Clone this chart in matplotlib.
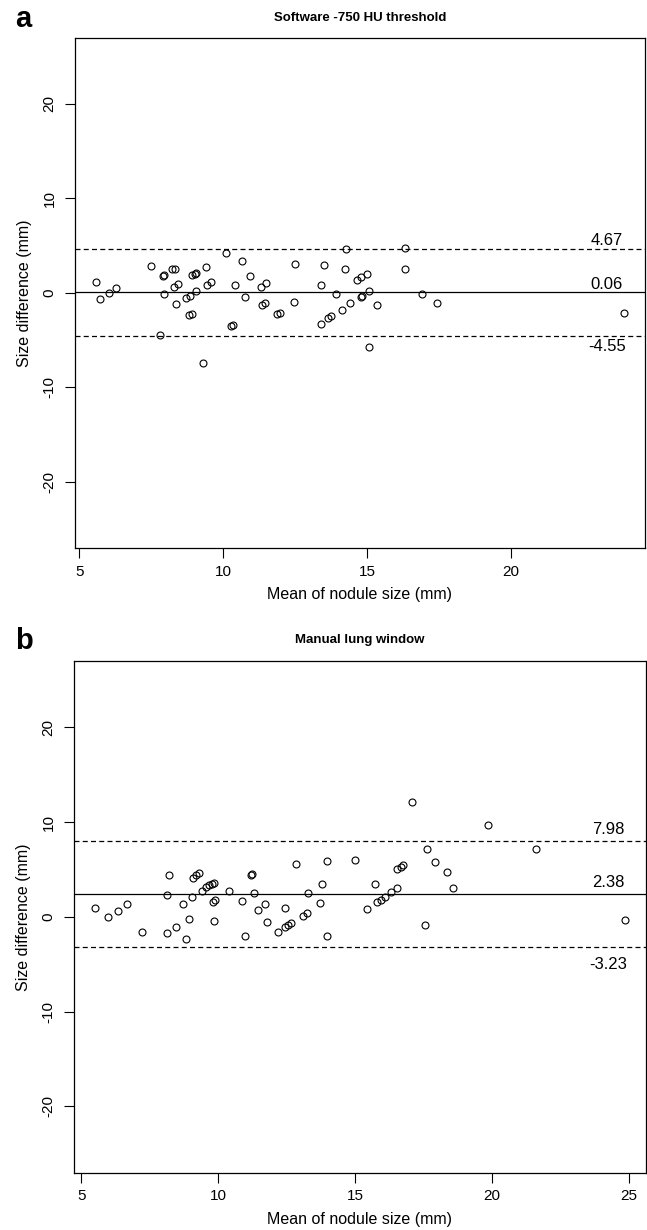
import matplotlib
matplotlib.use("Agg")
import matplotlib.pyplot as plt
import numpy as np

plt.rcParams['font.family'] = ['Liberation Sans', 'DejaVu Sans']

# ---------------- Panel a data ----------------
a_mean = [5.57, 5.72, 6.02, 6.26, 7.48, 7.79, 7.92, 7.95, 7.94, 8.22, 8.31, 8.29, 8.44, 8.37,
          8.69, 8.86, 8.80, 8.91, 8.92, 9.00, 9.05, 9.05, 9.31, 9.41, 9.42, 9.56, 10.09, 10.26,
          10.35, 10.42, 10.66, 10.74, 10.92, 11.31, 11.50, 11.34, 11.46, 11.86, 11.96, 12.49,
          12.47, 13.39, 13.50, 13.39, 13.64, 13.75, 13.93, 14.11, 14.24, 14.27, 14.42, 14.64,
          14.80, 15.00, 14.77, 14.82, 15.08, 15.07, 15.33, 16.30, 16.33, 16.90, 17.43, 23.92]
a_diff = [1.13, -0.60, 0.00, 0.50, 2.87, -4.45, 1.77, 1.88, -0.10, 2.48, 2.55, 0.57, 0.89, -1.23,
          -0.56, -0.32, -2.36, -2.26, 1.88, 2.02, 2.09, 0.18, -7.38, 2.76, 0.78, 1.13, 4.21, -3.46,
          -3.35, 0.78, 3.33, -0.49, 1.80, 0.57, 1.03, -1.27, -1.06, -2.23, -2.15, 3.01,
          -1.02, 0.82, 2.97, -3.25, -2.68, -2.47, -0.07, -1.83, 2.48, 4.63, -1.06, 1.35,
          1.63, 2.02, -0.42, -0.32, 0.15, -5.76, -1.27, 2.55, 4.74, -0.17, -1.06, -2.15]
a_lines = [4.67, 0.06, -4.55]          # upper LoA, bias, lower LoA
a_labels = ["4.67", "0.06", "-4.55"]

# ---------------- Panel b data ----------------
b_mean = [5.50, 5.96, 6.34, 6.68, 7.23, 8.22, 8.14, 8.14, 8.45, 8.71, 8.93, 8.81, 9.06, 9.09,
          9.20, 9.30, 9.40, 9.54, 9.66, 9.76, 9.85, 9.82, 9.87, 9.85, 10.38, 10.87, 10.98, 11.21,
          11.23, 11.31, 11.44, 11.70, 11.77, 12.18, 12.45, 12.43, 12.54, 12.67, 12.83, 13.09,
          13.24, 13.28, 13.78, 13.73, 13.96, 13.96,
          15.01, 15.74, 15.44, 15.78, 15.95, 16.07, 16.30, 16.53, 16.53, 16.69, 16.75, 17.06,
          17.63, 17.54, 17.93, 18.35, 18.58, 19.86, 21.60, 24.84]
b_diff = [0.90, -0.05, 0.65, 1.32, -1.64, 4.39, 2.30, -1.74, -1.05, 1.32, -0.20, -2.35, 2.09, 4.13,
          4.42, 4.60, 2.73, 3.12, 3.33, 3.47, 3.60, 1.60, 1.78, -0.44, 2.73, 1.64, -2.06, 4.42,
          4.49, 2.48, 0.75, 1.32, -0.55, -1.64, 0.90, -1.08, -0.90, -0.66, 5.58, 0.12,
          0.40, 2.48, 3.50, 1.43, 5.93, -2.06,
          6.00, 3.50, 0.79, 1.53, 1.81, 2.12, 2.62, 3.08, 5.02, 5.30, 5.44, 12.14,
          7.20, -0.87, 5.79, 4.70, 3.08, 9.74, 7.20, -0.34]
b_lines = [7.98, 2.38, -3.23]
b_labels = ["7.98", "2.38", "-3.23"]

y_ticks = [-20, -10, 0, 10, 20]
a_xticks = [5, 10, 15, 20]
b_xticks = [5, 10, 15, 20, 25]

W, H = 647, 1230
fig = plt.figure(figsize=(W / 100, H / 100), dpi=100)


def px_rect(l, t, r, b):
    return [l / W, 1 - b / H, (r - l) / W, (b - t) / H]


def panel(rect, xs, ys, lines, labels, offsets, xticks, title, letter, title_y, letter_y, label_x):
    ax = fig.add_axes(rect)
    ax.plot(xs, ys, linestyle='none', marker='o', markersize=5.0, markerfacecolor='none',
            markeredgecolor='black', markeredgewidth=0.8)
    rng = max(xs) - min(xs)
    ax.set_xlim(min(xs) - 0.04 * rng, max(xs) + 0.04 * rng)
    ax.set_ylim(-27, 27)
    styles = [(0, (4, 2.6)), '-', (0, (4, 2.6))]
    for v, ls in zip(lines, styles):
        ax.axhline(v, color='black', linewidth=0.9, linestyle=ls)
    for v, lab, off in zip(lines, labels, offsets):
        ax.annotate(lab, xy=(label_x, v), xycoords=('axes fraction', 'data'),
                    xytext=(0, off), textcoords='offset points',
                    ha='center', va='center', fontsize=12)
    ax.set_xticks(xticks)
    ax.set_yticks(y_ticks)
    ax.set_yticklabels([str(t) for t in y_ticks], rotation=90, va='center')
    ax.tick_params(axis='both', length=7, width=0.8, labelsize=11, direction='out')
    ax.tick_params(axis='x', pad=5)
    ax.tick_params(axis='y', pad=6)
    for s in ax.spines.values():
        s.set_linewidth(0.9)
    ax.set_xlabel("Mean of nodule size (mm)", fontsize=11.5, labelpad=6)
    ax.set_ylabel("Size difference (mm)", fontsize=11.5, labelpad=8)
    cx = (rect[0] + rect[2] / 2)
    fig.text(cx, 1 - title_y / H, title, ha='center', va='center', fontsize=9.5,
             fontweight='bold')
    fig.text(15 / W, 1 - letter_y / H, letter, ha='left', va='baseline', fontsize=21,
             fontweight='bold')
    return ax


panel(px_rect(74.7, 37.7, 645, 548), a_mean, a_diff, a_lines, a_labels, [5.6, 5.6, -7.6],
      a_xticks, "Software -750 HU threshold", "a", 18, 27.3, 0.933)
panel(px_rect(73.7, 661, 646, 1172.7), b_mean, b_diff, b_lines, b_labels, [8.6, 8.4, -12],
      b_xticks, "Manual lung window", "b", 640, 649, 0.934)

fig.savefig("out.png", dpi=100)
